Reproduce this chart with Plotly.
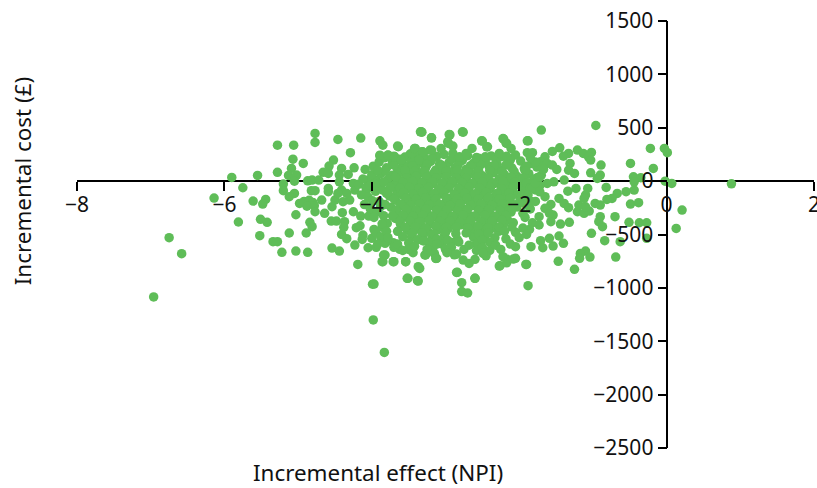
import plotly.graph_objects as go

# Outer points, left part
x_left = [-5.90,-5.55,-5.75,-6.14,-5.61,-5.44,-5.48,-5.81,-5.51,-5.42,-5.52,-5.34,-5.28,-5.22,-5.03,-4.87,-5.12,-4.89,-5.03,-4.84,-4.81,
 -5.28,-5.06,-4.77,-4.77,-4.46,-4.15,-4.29,-5.07,-4.93,-5.09,-5.28,-5.13,-5.02,-5.05,-5.20,-5.20,-5.05,-5.12,-4.52,-4.58,-4.66,-4.59,-4.41,-4.24,-4.09,-4.32,-4.44,
 -4.87,-4.81,-4.72,-4.82,-4.77,-4.59,-4.59,-4.68,-4.98,-4.92,-4.85,-4.80,-4.88,-4.78,-4.77,-4.64,-4.54,-4.50,-4.39,-4.30,
 -4.44,-4.41,-4.25,-4.23,-4.07,-4.05,-3.94,-4.34,-4.46,-4.40,-4.25,-4.15,-4.04,-3.84,-4.55,-4.48,-4.37,-4.38,-4.21,-4.16,-4.41,-4.34,-4.23,-4.12,-4.13,-4.00,-3.97,-3.86,-3.79,
 -4.54,-4.44,-4.05,-3.94,-3.82,-3.71,-4.19,-3.85,-3.82,-3.70,-3.54,-3.37,-3.51,-3.37,-3.97,-3.28,-3.13,-3.62,-3.44,-3.17,
 -3.33,-3.19,-3.89,-3.85,-3.64,-3.89,-3.78,-3.70,-3.60,-3.48,-3.41,-3.32,-3.21,
 -6.96,-6.75,-6.58,-3.98,-3.99,-3.83]
y_left = [35,53,-62,-159,-187,-171,-215,-383,-358,-386,-511,-567,-567,-667,-655,-667,-486,-486,-315,-386,-427,
 337,337,447,362,390,403,266,206,166,119,82,53,57,0,-28,-90,-115,-146,197,141,82,72,119,125,110,63,57,
 3,10,10,-90,-90,-68,-99,-177,-209,-190,-180,-200,-235,-230,-287,-302,-240,-177,-193,-177,
 -6,-84,-22,-84,-84,10,10,-115,-115,-296,-287,-327,-327,-324,-374,-374,-380,-433,-436,-418,-499,-539,-599,-505,-546,-536,-452,-433,-396,
 -627,-655,-624,-620,-583,-577,-780,-755,-692,-755,-755,-801,-911,-936,-964,-692,-723,-639,-670,-624,
 462,406,378,337,322,237,244,234,191,253,306,275,291,
 -1085,-530,-680,-1300,-965,-1605]

# Outer points, right part
x_right = [-0.96,-1.70,-2.76,-3.19,-2.94,-3.32,-2.96,-2.90,-2.50,-2.43,-2.21,-2.18,-1.88,-1.89,-1.82,-1.45,-1.55,-1.33,-1.40,
 -1.21,-1.13,-1.02,-1.06,-1.03,-1.65,-1.71,-1.62,-1.55,-1.49,-1.31,-1.33,-1.25,-0.89,-1.03,-0.90,-0.94,-0.49,-0.18,-0.22,-0.03,0.01,
 -0.45,-0.35,-0.02,0.07,-0.44,-0.55,-0.67,-0.82,-0.74,-0.81,-0.49,-0.38,0.21,0.13,-0.90,-0.92,-0.87,-0.70,-0.51,-0.37,-0.27,-0.27,-0.84,-0.63,-1.02,
 -0.69,-1.10,-1.17,-1.18,-1.04,-1.25,-1.47,-1.40,-1.46,-1.54,-1.59,-1.68,-1.71,-1.84,-2.05,-1.90,-1.88,-2.26,-2.16,-2.05,-2.60,-2.78,-2.78,-2.70,-2.84,-3.12,-3.27,
 -1.44,-1.32,-1.73,-1.86,-1.57,-1.54,-1.46,-1.39,-1.33,-1.21,-1.12,-1.05,-1.19,-1.10,-1.10,-1.07,-1.12,-1.23,-1.34,-0.97,-0.90,-0.44,-1.39,-1.53,-1.62,
 -1.65,-1.57,-1.65,-1.73,-1.59,0.88]
y_right = [521,478,459,406,434,459,353,328,375,322,394,359,378,266,266,312,278,259,234,
 291,259,269,228,197,228,181,166,150,110,166,103,72,150,78,57,25,166,119,306,306,266,
 41,32,0,-22,-84,-99,-115,-59,-162,-171,-215,-202,-271,-443,-333,-380,-427,-333,-386,-390,-390,-536,-558,-567,-489,
 -711,-655,-677,-723,-711,-826,-751,-583,-514,-608,-536,-624,-558,-614,-614,-780,-979,-792,-733,-723,-911,-951,-1035,-1048,-854,-723,-692,
 -402,-386,-411,-452,-380,-318,-162,-209,-249,-287,-302,-280,-224,-240,-131,-68,-162,-68,-94,-209,-224,-6,10,-6,-22,
 -146,-218,-255,-333,-302,-25]

# Dense central cloud
x_mid = [-3.55,-3.42,-3.28,-3.12,-3.02,-2.86,-2.70,-2.55,-2.38,-2.25,-2.05,
 -3.72,-3.58,-3.46,-3.33,-3.20,-3.08,-2.95,-2.78,-2.62,-2.48,-2.30,-2.15,-1.98,-1.83,
 -3.80,-3.65,-3.52,-3.40,-3.27,-3.13,-3.00,-2.87,-2.72,-2.57,-2.41,-2.27,-2.10,-1.93,-1.76,
 -3.88,-3.72,-3.60,-3.47,-3.35,-3.21,-3.07,-2.93,-2.80,-2.65,-2.50,-2.35,-2.20,-2.03,-1.87,-1.70,
 -3.78,-3.63,-3.50,-3.38,-3.25,-3.12,-2.98,-2.85,-2.71,-2.58,-2.43,-2.28,-2.13,-1.97,-1.80,
 -3.92,-3.70,-3.56,-3.44,-3.31,-3.17,-3.03,-2.90,-2.76,-2.62,-2.47,-2.33,-2.18,-2.02,-1.88,-1.72,
 -3.85,-3.66,-3.52,-3.39,-3.26,-3.11,-2.97,-2.83,-2.69,-2.55,-2.40,-2.25,-2.10,-1.94,-1.78,
 -3.76,-3.60,-3.47,-3.34,-3.20,-3.06,-2.92,-2.79,-2.65,-2.50,-2.36,-2.21,-2.06,-1.90,
 -3.90,-3.68,-3.54,-3.41,-3.28,-3.14,-3.00,-2.86,-2.73,-2.59,-2.44,-2.30,-2.15,-1.99,-1.84,
 -3.74,-3.60,-3.46,-3.33,-3.19,-3.05,-2.91,-2.77,-2.63,-2.48,-2.34,-2.19,-2.03,
 -3.65,-3.51,-3.38,-3.25,-3.11,-2.97,-2.83,-2.69,-2.54,-2.40,-2.25,-2.11,-1.95,
 -3.68,-3.55,-3.42,-3.29,-3.15,-3.01,-2.87,-2.73,-2.59,-2.45,-2.30,-2.16,
 -3.61,-3.47,-3.33,-3.20,-3.06,-2.92,-2.78,-2.63,-2.48,-2.35,-2.21,-2.08,
 -3.52,-3.39,-3.24,-3.10,-2.96,-2.65,-2.52,-2.38,-2.28,
 -3.46,-3.30,-3.18,-3.02,-2.62,-2.46,-2.33,
 -3.50,-3.22,-3.05,-2.92,-2.58,-2.40]
y_mid = [225,240,218,232,250,222,238,215,236,228,244,
 178,165,190,172,185,160,178,192,168,180,158,176,188,165,
 125,110,138,118,128,105,135,122,112,130,140,108,125,118,132,
 70,55,82,62,75,48,68,85,58,72,50,78,62,45,70,55,
 18,5,28,12,-5,22,8,30,-2,15,25,0,12,-8,20,
 -30,-42,-20,-35,-48,-25,-38,-18,-45,-28,-40,-22,-50,-32,-15,-42,
 -85,-98,-72,-90,-78,-102,-68,-92,-80,-105,-75,-88,-95,-70,-82,
 -140,-125,-152,-132,-145,-120,-158,-135,-148,-128,-155,-138,-122,-150,
 -190,-178,-202,-185,-198,-172,-205,-188,-175,-200,-182,-195,-208,-180,-192,
 -245,-232,-255,-238,-228,-250,-240,-258,-230,-248,-235,-252,-242,
 -300,-288,-312,-295,-282,-305,-292,-315,-285,-298,-308,-290,-302,
 -350,-338,-362,-345,-332,-358,-342,-365,-335,-352,-340,-360,
 -405,-392,-415,-398,-412,-388,-408,-420,-395,-410,-400,-390,
 -460,-448,-470,-455,-442,-465,-452,-445,-470,
 -520,-505,-532,-515,-525,-510,-530,
 -580,-570,-590,-575,-585,-572]

# Second pass over the central cloud, between the rows above
x_fill = [-3.62,-3.36,-3.18,-2.92,-2.77,-2.46,-2.31,-2.12,
 -3.70,-3.45,-3.25,-3.05,-2.83,-2.66,-2.52,-2.34,-2.18,-1.90,
 -3.82,-3.55,-3.42,-3.28,-3.15,-2.99,-2.84,-2.70,-2.55,-2.40,-2.23,-2.07,-1.92,
 -3.68,-3.53,-3.40,-3.26,-3.13,-2.99,-2.86,-2.72,-2.57,-2.42,-2.27,-2.11,-1.95,-1.75,
 -3.84,-3.58,-3.45,-3.32,-3.18,-3.05,-2.91,-2.78,-2.64,-2.50,-2.36,-2.22,-2.06,-1.90,
 -3.75,-3.62,-3.49,-3.36,-3.23,-3.09,-2.95,-2.82,-2.68,-2.54,-2.39,-2.24,-2.08,-1.85,
 -3.80,-3.57,-3.44,-3.31,-3.16,-3.02,-2.88,-2.74,-2.60,-2.45,-2.30,-2.14,-1.98,
 -3.70,-3.54,-3.40,-3.27,-3.13,-2.99,-2.85,-2.71,-2.56,-2.42,-2.27,-2.12,-1.95,
 -3.82,-3.61,-3.47,-3.35,-3.22,-3.08,-2.94,-2.80,-2.66,-2.52,-2.37,-2.23,-2.07,-1.91,
 -3.67,-3.53,-3.40,-3.26,-3.12,-2.98,-2.84,-2.70,-2.55,-2.41,-2.26,-2.10,
 -3.72,-3.58,-3.44,-3.31,-3.18,-3.04,-2.90,-2.76,-2.61,-2.47,-2.33,-2.18,
 -3.62,-3.48,-3.35,-3.22,-3.08,-2.94,-2.80,-2.66,-2.52,-2.37,-2.23,
 -3.55,-3.41,-3.27,-3.13,-2.99,-2.85,-2.70,-2.56,-2.42,-2.27,
 -3.45,-3.32,-3.16,-3.00,-2.86,-2.72,-2.55,-2.42,
 -3.38,-3.12,-2.97,-2.84,-2.50]
y_fill = [205,195,212,205,200,190,205,200,
 150,145,155,148,152,145,155,148,150,140,
 95,100,90,98,85,92,102,88,95,100,86,92,98,
 38,30,45,35,28,42,32,25,40,30,22,38,28,35,
 -8,-12,-2,-15,-6,-18,-4,-12,-20,-8,-16,-3,-10,-18,
 -60,-65,-55,-68,-58,-72,-62,-70,-55,-64,-60,-72,-58,-65,
 -115,-110,-120,-105,-118,-108,-122,-112,-118,-104,-116,-110,-120,
 -165,-160,-170,-155,-168,-158,-172,-162,-168,-154,-166,-160,-170,
 -220,-215,-225,-212,-222,-218,-228,-214,-224,-216,-226,-212,-222,-218,
 -270,-265,-275,-262,-272,-268,-278,-264,-274,-266,-276,-262,
 -325,-320,-330,-318,-328,-322,-332,-318,-326,-320,-330,-322,
 -378,-372,-382,-368,-378,-372,-384,-370,-380,-374,-366,
 -432,-428,-438,-425,-434,-430,-438,-426,-436,-430,
 -490,-485,-495,-482,-492,-486,-496,-484,
 -550,-545,-555,-548,-552]

# Edges of the cloud: left side, lower side, right side, top rim, lower stragglers
x_edge = [-4.18,-4.12,-4.08,-4.14,-4.05,-4.10,-4.02,-4.00,-3.98,-4.02,-3.95,-3.99,-3.93,-3.97,-3.92,-3.90,-3.88,-3.86,-3.82,-3.95,-3.88,-3.80,-3.78,-3.92,-3.70,
 -3.65,-3.58,-3.50,-3.42,-3.30,-3.25,-3.12,-3.00,-2.92,-2.82,-2.75,-2.68,-2.58,-2.50,-2.40,-2.32,-2.25,-2.18,-2.12,-2.05,-2.00,-1.95,-1.90,-2.10,-2.20,-3.65,-3.58,-3.15,-2.88,-2.45,
 -1.95,-1.88,-1.82,-1.78,-1.85,-1.78,-1.72,-1.92,-1.82,-1.72,-1.67,-1.78,-1.85,
 -3.89,-3.78,-3.69,-3.60,-3.46,-3.42,-3.31,-3.19,-3.06,-2.90,-2.81,-2.72,-2.64,-2.58,-2.46,-2.27,-2.17,-3.65,-3.34,-2.95,-2.77,-2.97,-2.51,-2.44,-2.22,-2.17,-2.11,-1.89,
 -3.84,-3.86,-3.71,-3.54,-3.35,-3.13,-2.98,-2.85,-2.76,-2.68,-2.60,-2.49,-2.27,-2.17,-2.08,-2.22,-1.91,-3.52,-3.38,-2.85,-2.60]
y_edge = [-30,20,-60,-130,-150,-220,-260,60,140,-40,-95,-185,-290,-340,100,180,-240,-400,220,-480,-520,-470,-530,-590,-620,
 -470,-520,-640,-610,-560,-640,-590,-640,-620,-570,-640,-600,-650,-620,-650,-600,-640,-540,-590,-480,-530,-440,-500,-430,-470,-590,-650,-680,-690,-700,
 -200,-130,-60,-20,-260,-190,-100,-340,-390,40,110,180,220,
 243,243,228,197,259,306,275,290,306,259,228,259,306,221,228,259,234,328,462,437,462,368,378,321,399,353,306,378,
 -693,-755,-755,-755,-818,-724,-671,-683,-740,-771,-733,-677,-796,-765,-730,-708,-780,-911,-933,-855,-911]

x_vals = x_left + x_right + x_mid + x_fill + x_edge
y_vals = y_left + y_right + y_mid + y_fill + y_edge

x_ticks = [-8, -6, -4, -2, 0, 2]
y_ticks = [1500, 1000, 500, 0, -500, -1000, -1500, -2000, -2500]

FONT = "Noto Sans"
GREEN = "#5FBD58"

fig = go.Figure(go.Scatter(
    x=x_vals, y=y_vals, mode="markers",
    marker=dict(color=GREEN, size=9.5, line=dict(width=0)),
    cliponaxis=False, hoverinfo="skip"))

fig.update_layout(
    width=817, height=488, autosize=False,
    margin=dict(l=77.4, r=2.6, t=21, b=40, autoexpand=False),
    paper_bgcolor="white", plot_bgcolor="white",
    showlegend=False,
    font=dict(family=FONT, size=21, color="#111111"),
    xaxis=dict(range=[-8, 2], anchor="free", position=0.625, automargin=False,
               tickmode="array", tickvals=x_ticks, ticks="outside", ticklen=9, tickwidth=2,
               tickcolor="black", showgrid=False, showline=False, zeroline=True,
               ticklabeloverflow="allow", ticklabelstandoff=-4,
               zerolinecolor="black", zerolinewidth=2, layer="above traces"),
    yaxis=dict(range=[-2500, 1500], anchor="free", position=0.8, automargin=False,
               tickmode="array", tickvals=y_ticks, ticks="outside", ticklen=9, tickwidth=2,
               tickcolor="black", showgrid=False, showline=False, zeroline=True,
               ticklabeloverflow="allow",
               zerolinecolor="black", zerolinewidth=2, layer="above traces"),
    annotations=[
        dict(text="Incremental effect (NPI)", xref="paper", yref="paper", x=0.408, y=-0.0585,
             showarrow=False, xanchor="center", yanchor="middle", font=dict(size=22.4)),
        dict(text="Incremental cost (£)", xref="paper", yref="paper", x=-0.0745, y=0.625,
             textangle=-90, showarrow=False, xanchor="center", yanchor="middle", font=dict(size=22.4)),
    ],
)

fig.write_html("out.html", config={"displayModeBar": False},
               post_script="document.body.style.margin='0';document.documentElement.style.overflow='hidden';")
